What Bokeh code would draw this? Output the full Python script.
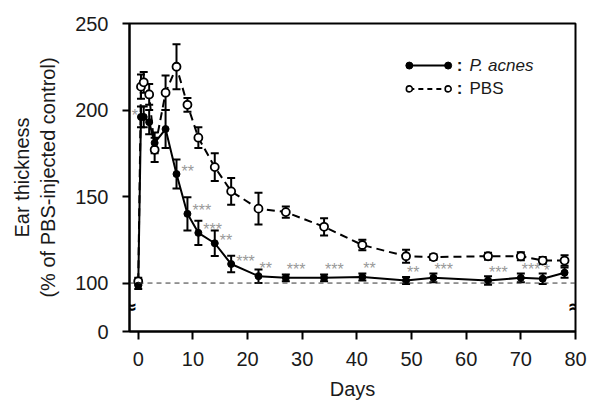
from bokeh.plotting import figure
from bokeh.models import (ColumnDataSource, Whisker, TeeHead, FixedTicker, Span, Label)
from bokeh.core.properties import value
from bokeh.embed import file_html
from bokeh.resources import INLINE

# ---------------- data ----------------
days = [0, 0.5, 1, 2, 3, 5, 7, 9, 11, 14, 17, 22, 27, 34, 41, 49, 54, 64, 70, 74, 78]
pacnes = [98.5, 196, 196, 193, 181, 189, 163, 140, 129, 123, 111, 104, 103, 103, 103.5,
          101.5, 103, 101.5, 103, 102.5, 106]
pacnes_err = [2, 6, 6, 7, 6, 11, 8.4, 9.6, 7, 7.3, 4.8, 3.9, 2, 2, 2, 2, 2.5, 2.5, 2.5, 3, 3]
pbs = [101, 213.5, 216, 209, 177, 210, 225, 203, 184, 167, 153, 143, 141, 132.5, 122,
       115.5, 115, 115.5, 115.5, 113, 113]
pbs_err = [2, 7, 6, 6, 7, 10, 13, 4, 6, 8, 7.7, 9.2, 3.2, 5, 3, 3.8, 1.7, 2, 2.3, 2, 3]

sig_days = [0.5, 7, 9, 11, 14, 17, 22, 27, 34, 41, 49, 54, 64, 70, 74]
sig_text = ["*", "**", "***", "***", "**", "***", "**", "***", "***", "**", "**", "***",
            "***", "***", "*"]

x_ticks = [0, 10, 20, 30, 40, 50, 60, 70, 80]
y_ticks = [100, 150, 200, 250]
y_zero_label = "0"
baseline = 100

series_names = ["P. acnes", "PBS"]

# ---------------- layout constants ----------------
FONT = "Liberation Sans"
X_START, X_END = -1.6, 80
Y_ZERO_POS, Y_END = 72, 250      # broken axis: "0" drawn at 72
BREAK_Y = 87

p = figure(width=598, height=404, output_backend="svg", toolbar_location=None,
           x_range=(X_START, X_END), y_range=(Y_ZERO_POS, Y_END),
           min_border_left=129, min_border_right=23, min_border_top=23,
           min_border_bottom=73)
p.grid.visible = False
p.background_fill_color = "white"
p.border_fill_color = "white"
p.outline_line_color = "black"
p.outline_line_width = 2
p.outline_line_alpha = 1

# axes
for ax in (p.xaxis[0], p.yaxis[0]):
    ax.axis_line_width = 2
    ax.axis_line_color = "black"
    ax.major_tick_line_width = 2
    ax.major_tick_line_color = "black"
    ax.major_tick_in = 0
    ax.minor_tick_line_color = None
    ax.major_label_text_font = FONT
    ax.major_label_text_font_size = "20px"
    ax.major_label_text_color = "#1a1a1a"
    ax.axis_label_text_font = FONT
    ax.axis_label_text_font_size = "20px"
    ax.axis_label_text_font_style = "normal"
    ax.axis_label_text_color = "#1a1a1a"

p.xaxis.ticker = FixedTicker(ticks=x_ticks)
p.xaxis.axis_label = "Days"
p.xaxis.major_tick_out = 8
p.xaxis.major_label_standoff = 12
p.xaxis.axis_label_standoff = 9

p.yaxis.ticker = FixedTicker(ticks=[Y_ZERO_POS] + y_ticks)
p.yaxis.major_label_overrides = {Y_ZERO_POS: y_zero_label}
p.yaxis.axis_label = "Ear thickness\n(% of PBS-injected control)"
p.yaxis.major_tick_out = 7
p.yaxis.major_label_standoff = 14
p.yaxis.axis_label_standoff = 13

# baseline
p.add_layout(Span(location=baseline, dimension="width", line_color="#333333",
                  line_width=1, line_dash="5 4"))

# PBS series
src_pbs = ColumnDataSource(dict(x=days, y=pbs,
                                lo=[v - e for v, e in zip(pbs, pbs_err)],
                                hi=[v + e for v, e in zip(pbs, pbs_err)]))
p.line("x", "y", source=src_pbs, line_color="black", line_width=2, line_dash="8 5")
p.add_layout(Whisker(source=src_pbs, base="x", upper="hi", lower="lo",
                     line_color="black", line_width=2,
                     upper_head=TeeHead(size=8, line_width=2, line_color="black"),
                     lower_head=TeeHead(size=8, line_width=2, line_color="black")))

# P. acnes series
src_pa = ColumnDataSource(dict(x=days, y=pacnes,
                               lo=[v - e for v, e in zip(pacnes, pacnes_err)],
                               hi=[v + e for v, e in zip(pacnes, pacnes_err)]))
p.line("x", "y", source=src_pa, line_color="black", line_width=2)
p.add_layout(Whisker(source=src_pa, base="x", upper="hi", lower="lo",
                     line_color="black", line_width=2,
                     upper_head=TeeHead(size=8, line_width=2, line_color="black"),
                     lower_head=TeeHead(size=8, line_width=2, line_color="black")))

p.scatter("x", "y", source=src_pbs, marker="circle", size=8, fill_color="white",
          line_color="black", line_width=1.8)
p.scatter("x", "y", source=src_pa, marker="circle", size=7, fill_color="black",
          line_color="black")

# significance asterisks
lookup = dict(zip(days, pacnes))
sig_y = [lookup[d] for d in sig_days]
sig_align = ["right" if d < 2 else "left" for d in sig_days]
sig_xo = [-3 if d < 2 else (5 if d < 20 else 1) for d in sig_days]
sig_yo = [-1 if d < 2 else (-3 if d < 20 else -8) for d in sig_days]
src_sig = ColumnDataSource(dict(x=sig_days, y=sig_y, t=sig_text, a=sig_align,
                                xo=sig_xo, yo=sig_yo))
p.text("x", "y", text="t", source=src_sig, text_align="a", text_baseline="middle",
       x_offset="xo", y_offset="yo", text_font=value(FONT), text_font_size="16px",
       text_color="#999999")

# axis break marks
for bx in (X_START, X_END):
    p.add_layout(Label(x=bx, y=BREAK_Y, text="≈", text_align="center",
                       text_baseline="middle", text_font="DejaVu Sans",
                       text_font_size="19px", text_font_style="bold",
                       text_color="black", background_fill_color=None))

# custom legend
LX0, LX1, LCOLON, LTEXT = 49.6, 56.7, 58.8, 60.6
LY = [225.7, 212.2]
p.line([LX0, LX1], [LY[0], LY[0]], line_color="black", line_width=2)
p.scatter([LX0, LX1], [LY[0], LY[0]], marker="circle", size=7, fill_color="black",
          line_color="black")
p.line([LX0, LX1], [LY[1], LY[1]], line_color="black", line_width=2, line_dash="5 4")
p.scatter([LX0, LX1], [LY[1], LY[1]], marker="circle", size=6, fill_color="white",
          line_color="black", line_width=1.6)
p.text([LCOLON, LCOLON], LY, text=[":", ":"], text_align="center",
       text_baseline="middle", text_font=value(FONT), text_font_size="17px",
       text_font_style="bold", text_color="#1a1a1a")
p.text([LTEXT], [LY[0]], text=[series_names[0]], text_align="left",
       text_baseline="middle", text_font=value(FONT), text_font_size="17px",
       text_font_style="italic", text_color="#1a1a1a")
p.text([LTEXT], [LY[1]], text=[series_names[1]], text_align="left",
       text_baseline="middle", text_font=value(FONT), text_font_size="17px",
       text_color="#1a1a1a")

open("out.html", "w").write(file_html(p, INLINE))
